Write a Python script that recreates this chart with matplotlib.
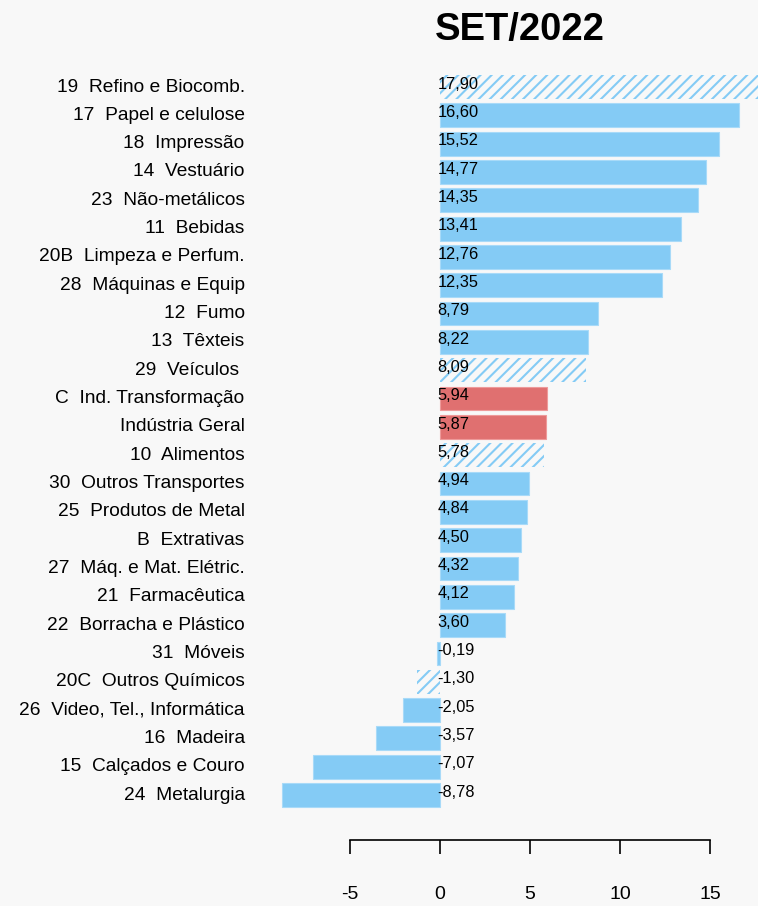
import numpy as np
import matplotlib.pyplot as plt

# setores e variacao (%) - set/2022
setores = ["19  Refino e Biocomb.", "17  Papel e celulose", "18  Impressão", "14  Vestuário",
           "23  Não-metálicos", "11  Bebidas", "20B  Limpeza e Perfum.", "28  Máquinas e Equip",
           "12  Fumo", "13  Têxteis", "29  Veículos ", "C  Ind. Transformação", "Indústria Geral",
           "10  Alimentos", "30  Outros Transportes", "25  Produtos de Metal", "B  Extrativas",
           "27  Máq. e Mat. Elétric.", "21  Farmacêutica", "22  Borracha e Plástico", "31  Móveis",
           "20C  Outros Químicos", "26  Video, Tel., Informática", "16  Madeira",
           "15  Calçados e Couro", "24  Metalurgia"]
valores = [17.90, 16.60, 15.52, 14.77, 14.35, 13.41, 12.76, 12.35, 8.79, 8.22, 8.09, 5.94, 5.87,
           5.78, 4.94, 4.84, 4.50, 4.32, 4.12, 3.60, -0.19, -1.30, -2.05, -3.57, -7.07, -8.78]
hachurados = ["19  Refino e Biocomb.", "29  Veículos ", "10  Alimentos", "20C  Outros Químicos"]
destaque = ["C  Ind. Transformação", "Indústria Geral"]
ticks = [-5, 0, 5, 10, 15]

azul = "#84CBF5"
vermelho = "#E07070"
fundo = "#F8F8F8"

plt.rcParams['font.family'] = ['Liberation Sans', 'DejaVu Sans']
plt.rcParams['hatch.linewidth'] = 1.5

fig = plt.figure(figsize=(7.58, 9.06), dpi=100, facecolor=fundo)
ax = fig.add_axes([0, 0.0728, 1, 0.8499])
ax.set_facecolor(fundo)

n = len(valores)
y = np.arange(n)[::-1]

for yi, nome, v in zip(y, setores, valores):
    if nome in hachurados:
        ax.barh(yi, v, height=0.84, color="none", edgecolor=azul, hatch="///", linewidth=0)
    elif nome in destaque:
        ax.barh(yi, v, height=0.84, color=vermelho, edgecolor="#EE9A9A", linewidth=0.8)
    else:
        ax.barh(yi, v, height=0.84, color=azul, edgecolor="#A8DAF8", linewidth=0.8)
    ax.text(-0.15, yi + 0.1, f"{v:.2f}".replace(".", ","), ha="left", va="center", fontsize=11.8)
    ax.text(-10.85, yi, nome, ha="right", va="center", fontsize=13.8)

ax.set_xlim(-440 / 18, 318 / 18)
ax.set_ylim(-1.59, 25.6)

for s in ["top", "right", "left"]:
    ax.spines[s].set_visible(False)
ax.spines["bottom"].set_bounds(-5, 15)
ax.spines["bottom"].set_linewidth(1.2)
ax.set_xticks(ticks)
ax.set_xticklabels([str(t) for t in ticks], fontsize=14)
ax.tick_params(axis="x", direction="out", length=10, width=1.2, pad=23)
ax.set_yticks([])

fig.text(0.686, 0.967, "SET/2022", ha="center", va="center", fontsize=27.5, fontweight="bold")

fig.savefig("out.png", dpi=100, facecolor=fundo)
